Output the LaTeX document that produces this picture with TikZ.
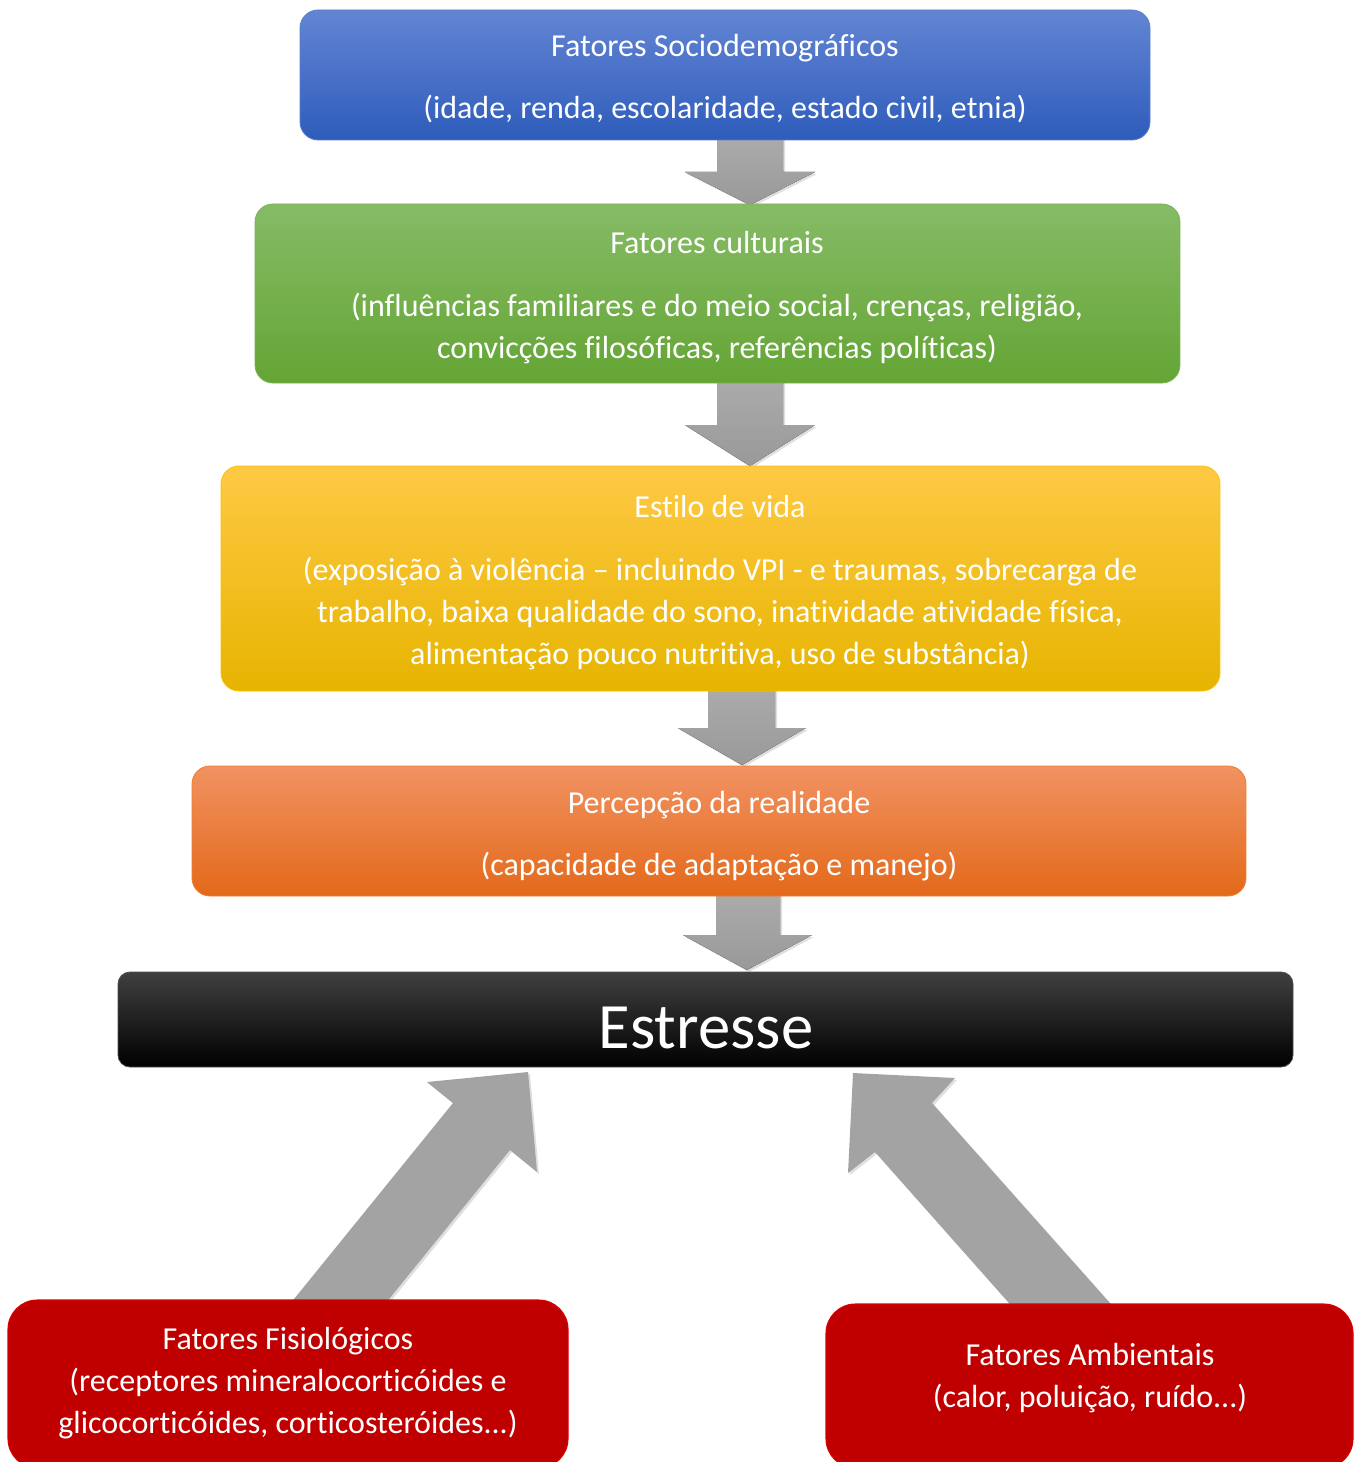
\documentclass[tikz,border=0pt]{standalone}
\usepackage{fontspec}
\setmainfont{Carlito}[Ligatures={NoCommon}]
\usetikzlibrary{shadows,calc}
\definecolor{bluetop}{HTML}{6385D3}
\definecolor{bluebot}{HTML}{2E5CBB}
\definecolor{greentop}{HTML}{86BB66}
\definecolor{greenbot}{HTML}{64A535}
\definecolor{yeltop}{HTML}{FFC944}
\definecolor{yelmid}{HTML}{FFC000}
\definecolor{yelbot}{HTML}{E6B400}
\definecolor{ortop}{HTML}{F19262}
\definecolor{ormid}{HTML}{F17C2C}
\definecolor{orbot}{HTML}{E3691A}
\definecolor{redbox}{HTML}{C00000}
\definecolor{arrowtop}{HTML}{ABABAB}
\definecolor{arrowbot}{HTML}{999999}
\tikzset{
  box/.style={rounded corners=13.5pt, inner sep=0pt, line width=0.6pt},
  redbox/.style={rounded corners=22pt, inner sep=0pt, fill=redbox, draw=red!85!black, line width=0.8pt},
  txt/.style={text=white, font=\fontsize{24}{29}\selectfont, anchor=base, inner sep=0pt},
  bigtxt/.style={text=white, font=\fontsize{48.5}{56}\selectfont, anchor=base, inner sep=0pt},
  blockarrow/.style={top color=arrowtop, bottom color=arrowbot, draw=none,
     drop shadow={opacity=0.25, shadow xshift=1.5pt, shadow yshift=-1.5pt}},
  diagarrow/.style={fill=arrowbot!90!white, draw=none,
     drop shadow={opacity=0.25, shadow xshift=1.5pt, shadow yshift=-1.5pt}}
}
\begin{document}
\begin{tikzpicture}[x=0.75pt,y=-0.75pt]
\useasboundingbox (0,0) rectangle (1357,1462);
% ---- block arrows (drawn first, boxes cover their ends)
\fill[blockarrow] (717,136) -- (783,136) -- (783,172) -- (815,172) -- (750,205) -- (685,172) -- (717,172) -- cycle;
\fill[blockarrow] (717,380) -- (783,380) -- (783,425) -- (815,425) -- (750,466) -- (685,425) -- (717,425) -- cycle;
\fill[blockarrow] (708,688) -- (775,688) -- (775,728) -- (806,728) -- (742,765) -- (678,728) -- (708,728) -- cycle;
\fill[blockarrow] (716,893) -- (780,893) -- (780,935) -- (812,935) -- (747,970) -- (683,935) -- (716,935) -- cycle;
% diagonal arrows
\fill[diagarrow] (277,1320) -- (453,1103) -- (427,1082) -- (528,1072) -- (537,1172) -- (510,1150) -- (372,1320) -- cycle;
\fill[diagarrow] (1125,1320) -- (932,1103) -- (955,1078) -- (853,1073) -- (848,1173) -- (875,1152) -- (1024,1320) -- cycle;
% ---- boxes
\node[box, top color=bluetop, bottom color=bluebot, draw=bluebot!80!white,
      minimum width=637.5pt, minimum height=97.5pt] (b1) at (725,75) {};
\node[box, top color=greentop, bottom color=greenbot, draw=greenbot!85!white,
      minimum width=693.75pt, minimum height=134.25pt] (b2) at (717.5,293.5) {};
\node[box, top color=yeltop, middle color=yelmid, bottom color=yelbot, draw=yelmid,
      minimum width=749.25pt, minimum height=168.75pt] (b3) at (720.5,578.5) {};
\node[box, top color=ortop, middle color=ormid, bottom color=orbot, draw=ormid,
      minimum width=790.5pt, minimum height=97.5pt] (b4) at (719,831) {};
\node[box, rounded corners=9pt, top color=black!75, middle color=black, bottom color=black, draw=black!70,
      minimum width=881.25pt, minimum height=71.25pt] (b5) at (705.5,1019.5) {};
\node[redbox, minimum width=420pt, minimum height=126pt] (r1) at (288,1384) {};
\node[redbox, minimum width=395.25pt, minimum height=123pt] (r2) at (1089.5,1386) {};
% ---- texts
\node[txt] (t1a) at (725,57) {Fatores Sociodemográficos};
\node[txt] (t1b) at (725,119) {(idade, renda, escolaridade, estado civil, etnia)};
\node[txt] (t2a) at (717,253) {Fatores culturais};
\node[txt] (t2b) at (717,316) {(influências familiares e do meio social, crenças, religião,};
\node[txt] (t2c) at (717,358) {convicções filosóficas, referências políticas)};
\node[txt] (t3a) at (720,517) {Estilo de vida};
\node[txt] (t3b) at (720,580) {(exposição à violência – incluindo VPI - e traumas, sobrecarga de};
\node[txt] (t3c) at (720,622) {trabalho, baixa qualidade do sono, inatividade atividade física,};
\node[txt] (t3d) at (720,664) {alimentação pouco nutritiva, uso de substância)};
\node[txt] (t4a) at (719,813) {Percepção da realidade};
\node[txt] (t4b) at (719,875) {(capacidade de adaptação e manejo)};
\node[bigtxt] (t5) at (706,1048) {Estresse};
\node[txt] (r1a) at (288,1349) {Fatores Fisiológicos};
\node[txt] (r1b) at (288,1391) {(receptores mineralocorticóides e};
\node[txt] (r1c) at (288,1433) {glicocorticóides, corticosteróides...)};
\node[txt] (r2a) at (1090,1365) {Fatores Ambientais};
\node[txt] (r2b) at (1090,1407) {(calor, poluição, ruído...)};
\end{tikzpicture}
\end{document}
